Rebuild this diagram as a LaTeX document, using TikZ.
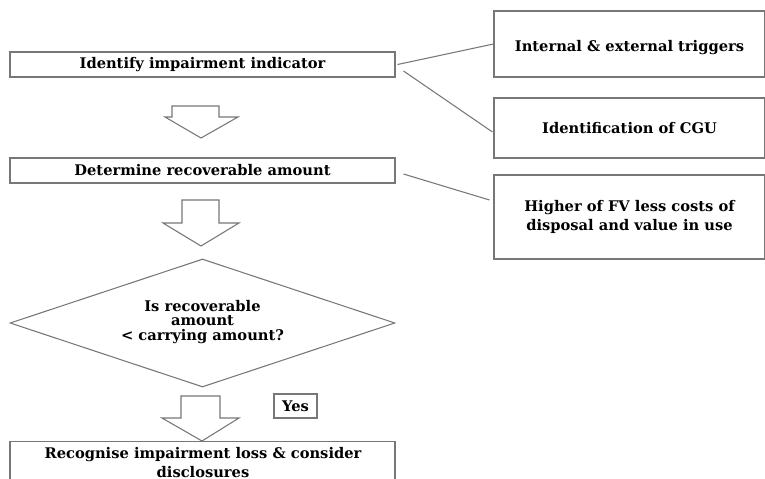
\documentclass[tikz,border=0pt]{standalone}
\usepackage{fontspec}
\setmainfont{DejaVu Serif}
\usetikzlibrary{shapes.geometric}
\definecolor{linegray}{HTML}{777777}
\begin{document}
\begin{tikzpicture}[x=0.75pt,y=-0.75pt,
  lbl/.style={inner sep=0pt, align=center, font=\fontsize{11}{14.3}\selectfont\bfseries},
  box/.style={draw=linegray, line width=0.8pt, inner sep=0pt, align=center,
              font=\fontsize{11}{14.3}\selectfont\bfseries},
  link/.style={draw=linegray, line width=0.8pt},
  blockarrow/.style={draw=linegray, line width=0.8pt, fill=white, line join=miter}]
\useasboundingbox (0,0) rectangle (765,479);
\clip (0,0) rectangle (765,479);

% left column
\node[box, minimum width=385*0.75pt, minimum height=25*0.75pt] (identify) at (202.5,64.5) {Identify impairment indicator};
\node[box, minimum width=385*0.75pt, minimum height=25*0.75pt] (determine) at (202.5,170.5) {Determine recoverable amount};
\node[diamond, draw=linegray, line width=0.8pt, inner sep=0pt, aspect=3,
      minimum width=385*0.75pt, minimum height=128*0.75pt] (decide) at (202.5,323) {};
\node[lbl, font=\fontsize{11}{10.6}\selectfont\bfseries] (decidetext) at (202.5,322) {Is recoverable\\amount\\< carrying amount?};
\node[box, minimum width=43*0.75pt, minimum height=24*0.75pt] (yes) at (295.5,406) {Yes};
\node[box, anchor=north, minimum width=385*0.75pt, minimum height=60*0.75pt] (recognise) at (202.5,441) {};
\node[lbl] (recognisetext) at (203,462.5) {Recognise impairment loss \& consider\\disclosures};

% right column
\node[box, minimum width=271*0.75pt, minimum height=66*0.75pt] (triggers) at (629.5,44) {};
\node[lbl] (triggerstext) at (629.5,48) {Internal \& external triggers};
\node[box, minimum width=271*0.75pt, minimum height=60*0.75pt] (cgu) at (629.5,128) {Identification of CGU};
\node[box, minimum width=271*0.75pt, minimum height=84*0.75pt] (higher) at (629.5,217) {Higher of FV less costs of\\disposal and value in use};

% block arrows
\draw[blockarrow] (172,106) -- (219,106) -- (219,117) -- (238,117) -- (201,138) -- (165,117) -- (172,117) -- cycle;
\draw[blockarrow] (182,200) -- (219,200) -- (219,223) -- (239,223) -- (201,246) -- (163,223) -- (182,223) -- cycle;
\draw[blockarrow] (181,396) -- (220,396) -- (220,418) -- (239,418) -- (202,441) -- (162,418) -- (181,418) -- cycle;

% connectors
\draw[link] ([xshift=1.5pt]identify.east) -- (triggers.west);
\draw[link] ([shift={(8,6.5)}]identify.east) -- ([shift={(-1,4)}]cgu.west);
\draw[link] ([shift={(8,3.5)}]determine.east) -- ([shift={(-4,-17)}]higher.west);
\end{tikzpicture}
\end{document}
